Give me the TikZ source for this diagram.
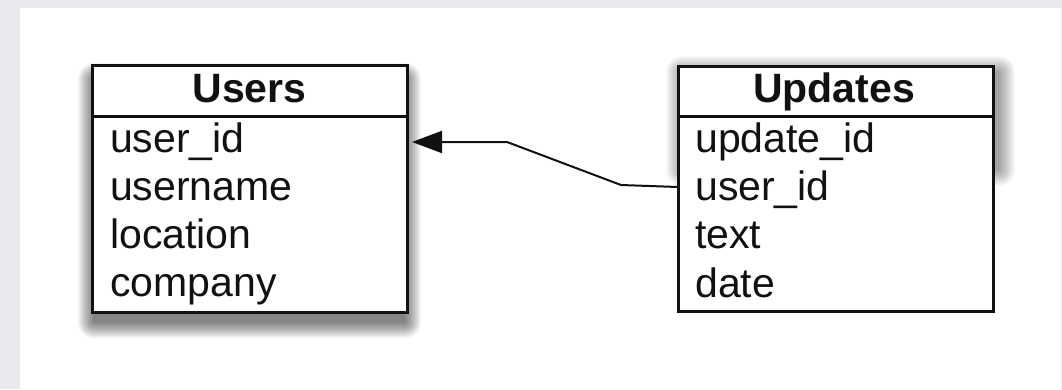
\documentclass[tikz,border=0pt]{standalone}
\usepackage{fontspec}
\setmainfont{Liberation Sans}
\usetikzlibrary{arrows.meta,calc}
\definecolor{bggrey}{HTML}{E9EAED}
\definecolor{ink}{HTML}{111111}
\tikzset{
  tablebox/.style={draw=ink, line width=3pt, fill=white, rectangle, inner sep=0pt, outer sep=0pt},
  headtext/.style={font=\fontsize{41}{48}\selectfont\bfseries, text=ink, inner sep=0pt, anchor=base},
  rowtext/.style={font=\fontsize{41}{48}\selectfont, text=ink, inner sep=0pt, anchor=base west},
  fklink/.style={draw=ink, line width=2pt, -{Triangle[length=30pt,width=22pt]}},
}
\begin{document}
\begin{tikzpicture}[x=1pt,y=-1pt]
\useasboundingbox (0,0) rectangle (1062,389);
\fill[bggrey] (0,0) rectangle (1062,389);
\fill[white] (20,8) rectangle (1061,389);
% soft shadows
\foreach \r in {16,15,...,0}{
  \fill[black, opacity=0.035, rounded corners=\r pt] (92-\r+2,65-\r+14) rectangle (407+\r-2,312+\r+10);
  \fill[black, opacity=0.025, rounded corners=\r pt] (678-\r+4,66-\r+6) rectangle (993+\r+6,200+\r-30);
}
% Users table
\node[tablebox, minimum width=315pt, minimum height=51pt, anchor=north west] (usrhead) at (92,65) {};
\node[tablebox, minimum width=315pt, minimum height=196pt, anchor=north west] (usrbody) at (92,116) {};
\node[headtext] (usrtitle) at (249.5,102) {Users};
\node[rowtext] (u1) at (110,152) {user\_id};
\node[rowtext] (u2) at (110,200) {username};
\node[rowtext] (u3) at (110,248) {location};
\node[rowtext] (u4) at (110,296) {company};
% Updates table
\node[tablebox, minimum width=315pt, minimum height=50pt, anchor=north west] (updhead) at (678,66) {};
\node[tablebox, minimum width=315pt, minimum height=195pt, anchor=north west] (updbody) at (678,116) {};
\node[headtext] (updtitle) at (834,102) {Updates};
\node[rowtext] (p1) at (695,152) {update\_id};
\node[rowtext] (p2) at (695,200) {user\_id};
\node[rowtext] (p3) at (695,248) {text};
\node[rowtext] (p4) at (695,297) {date};
% connector
\draw[fklink] ($(updbody.north west)+(0,71)$) -- (621,185) -- (507,142) -- ($(usrbody.north east)+(5,26)$);
\end{tikzpicture}
\end{document}
